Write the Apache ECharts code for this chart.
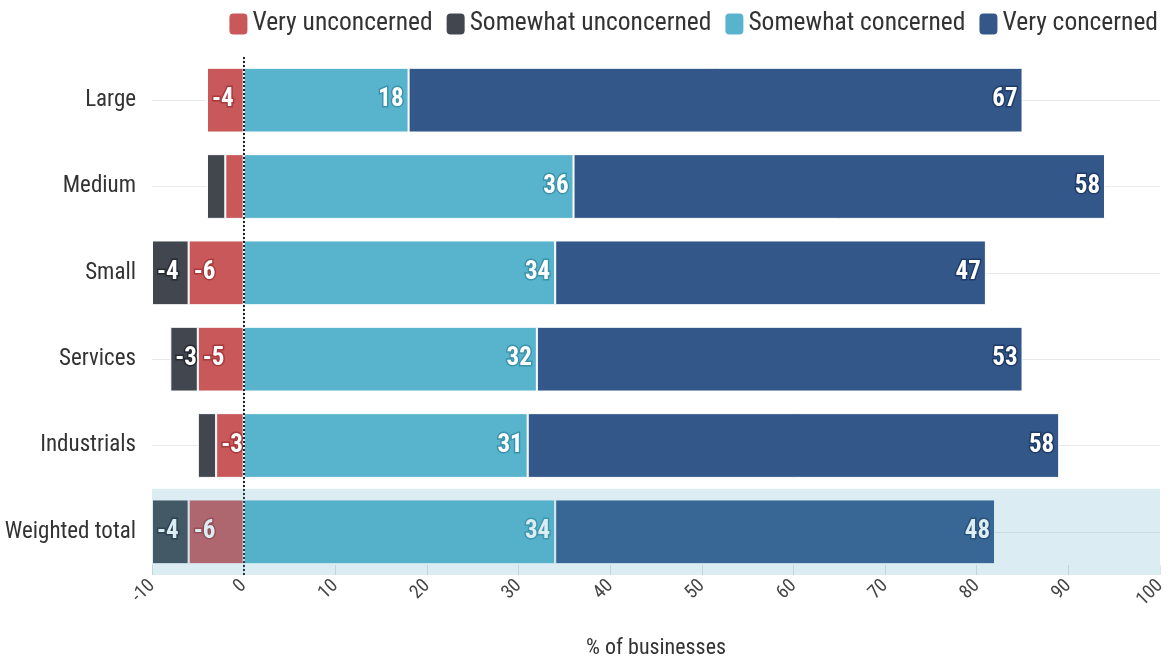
<!DOCTYPE html>
<html>
<head>
<meta charset="utf-8">
<script src="https://cdn.jsdelivr.net/npm/echarts@6/dist/echarts.min.js"></script>
<style>
html,body{margin:0;padding:0;background:#fff;}
#chart{width:1169px;height:659px;}
</style>
</head>
<body>
<div id="chart"></div>
<script>
const categories = ['Weighted total', 'Industrials', 'Services', 'Small', 'Medium', 'Large'];
const veryUnconcerned = [-6, -3, -5, -6, -2, -4];
const somewhatUnconcerned = [-4, -2, -3, -4, -2, 0];
const somewhatConcerned = [34, 31, 32, 34, 36, 18];
const veryConcerned = [48, 58, 53, 47, 58, 67];
const highlighted = ['Weighted total'];
const xTicks = { min: -10, max: 100, interval: 10 };

const FONT = "'Roboto Condensed', 'Liberation Sans Narrow', 'DejaVu Sans Condensed', sans-serif";
const colors = {
  vu: '#c8585a',
  su: '#41464f',
  sc: '#58b4cc',
  vc: '#34578a'
};
const borders = {
  vu: '#a83a3c',
  su: '#262a31',
  sc: '#3a94ac',
  vc: '#1f3c66'
};

function mkSeries(name, data, key, neg) {
  return {
    name: name,
    type: 'bar',
    stack: 'total',
    data: data,
    barCategoryGap: '25%',
    itemStyle: { color: colors[key], borderColor: '#fff', borderWidth: 1 },
    label: {
      show: true,
      position: neg ? 'insideLeft' : 'insideRight',
      distance: 5,
      fontFamily: FONT,
      fontSize: 25,
      fontWeight: 'bold',
      color: '#fff',
      textBorderColor: borders[key],
      textBorderWidth: 3,
      formatter: function (p) { return Math.abs(p.value) >= 3 ? String(p.value) : ''; }
    },
    emphasis: { disabled: true }
  };
}

const series = [
  mkSeries('Very unconcerned', veryUnconcerned, 'vu', true),
  mkSeries('Somewhat unconcerned', somewhatUnconcerned, 'su', true),
  mkSeries('Somewhat concerned', somewhatConcerned, 'sc', false),
  mkSeries('Very concerned', veryConcerned, 'vc', false)
];
series[0].markLine = {
  silent: true,
  symbol: 'none',
  label: { show: false },
  lineStyle: { type: [2, 2], color: '#222', width: 2 },
  data: [{ xAxis: 0 }]
};
series.push({
  type: 'custom',
  name: 'highlight',
  z: 5,
  silent: true,
  encode: { y: 0 },
  data: highlighted.map(function (c) { return [c]; }),
  renderItem: function (params, api) {
    const c = api.coord([0, api.value(0)]);
    const h = api.size([0, 1])[1];
    const cs = params.coordSys;
    return {
      type: 'rect',
      shape: { x: cs.x, y: c[1] - h / 2, width: cs.width, height: h },
      style: { fill: 'rgba(75,165,195,0.2)' }
    };
  }
});

const chart = echarts.init(document.getElementById('chart'), null, { renderer: 'canvas' });
chart.setOption({
  animation: false,
  backgroundColor: '#fff',
  textStyle: { fontFamily: FONT },
  legend: {
    data: ['Very unconcerned', 'Somewhat unconcerned', 'Somewhat concerned', 'Very concerned'],
    right: 6,
    top: 6,
    icon: 'roundRect',
    itemWidth: 20,
    itemHeight: 23,
    itemGap: 12,
    textStyle: { fontFamily: FONT, fontSize: 25.5, color: '#333', padding: [0, 0, 0, -1] }
  },
  grid: { left: 152, right: 9, top: 57, bottom: 84, containLabel: false, outerBoundsMode: 'none' },
  xAxis: {
    type: 'value',
    min: xTicks.min,
    max: xTicks.max,
    interval: xTicks.interval,
    name: '% of businesses',
    nameLocation: 'middle',
    nameGap: 62,
    nameTextStyle: { fontFamily: FONT, fontSize: 22, color: '#333' },
    axisLine: { show: false },
    axisTick: { show: true, inside: true, length: 10, lineStyle: { color: '#dde3e6' } },
    splitLine: { show: false },
    axisLabel: { rotate: 45, fontFamily: FONT, fontSize: 19, color: '#444', margin: 8 }
  },
  yAxis: {
    type: 'category',
    data: categories,
    axisLine: { show: true, lineStyle: { color: '#e6e6e6' } },
    axisTick: { show: true, alignWithLabel: true, length: 12, lineStyle: { color: '#e6e6e6' } },
    splitLine: { show: true, alignWithLabel: true, lineStyle: { color: '#e9e9e9' } },
    axisLabel: { fontFamily: FONT, fontSize: 23, color: '#333', margin: 16 }
  },
  series: series
});
</script>
</body>
</html>
